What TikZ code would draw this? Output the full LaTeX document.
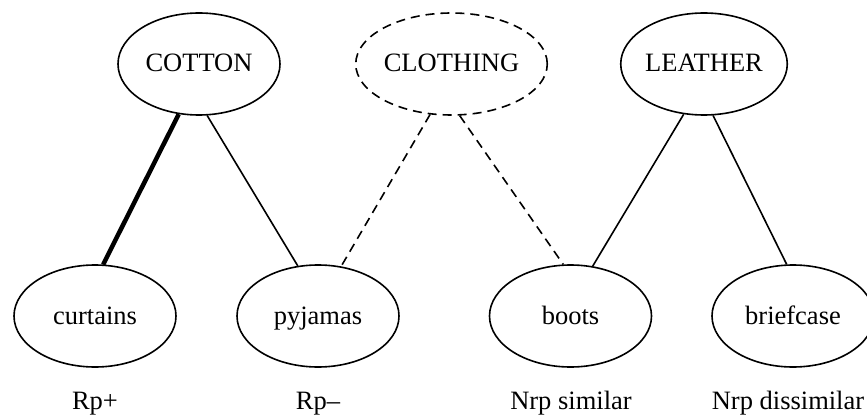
\documentclass[tikz,border=0pt]{standalone}
\usepackage{fontspec}
\setmainfont{Liberation Serif}
\usetikzlibrary{shapes.geometric}
\tikzset{
  concept/.style={ellipse, draw, line width=1.6pt, minimum width=162pt, minimum height=102pt, inner sep=0pt, text height=19pt, text depth=3pt, font=\fontsize{26.5}{30}\selectfont},
  dconcept/.style={concept, dash pattern=on 9pt off 6pt},
  lab/.style={anchor=base, inner sep=0pt, font=\fontsize{26.5}{30}\selectfont},
  link/.style={line width=1.6pt},
  strong/.style={line width=4.5pt},
  dlink/.style={line width=1.6pt, dash pattern=on 9pt off 6pt}
}
\begin{document}
\begin{tikzpicture}[x=1pt,y=-1pt]
\useasboundingbox (0,0) rectangle (867,417);
\begin{scope}
\clip (0,0) rectangle (867,417);
\node[concept] (cotton) at (199,64) {COTTON};
\node[dconcept] (clothing) at (451.5,64) {CLOTHING};
\node[concept] (leather) at (704,64) {LEATHER};
\node[concept] (curtains) at (95,316) {curtains};
\node[concept] (pyjamas) at (318,316) {pyjamas};
\node[concept] (boots) at (570.5,316) {boots};
\node[concept] (briefcase) at (793,316) {briefcase};
\end{scope}
\node[lab] (l1) at (95,409) {Rp+};
\node[lab] (l2) at (318,409) {Rp–};
\node[lab] (l3) at (571,409) {Nrp similar};
\node[lab] (l4) at (788,409) {Nrp dissimilar};
\draw[strong] (cotton.248) -- (curtains.81);
\draw[link] (cotton.-81) -- (pyjamas.112);
\draw[dlink] (clothing.-113) -- (pyjamas.65);
\draw[dlink] (clothing.-81.5) -- (boots.98);
\draw[link] (leather.-112) -- (boots.66);
\draw[link] (leather.-80) -- (briefcase.97);
\end{tikzpicture}
\end{document}
